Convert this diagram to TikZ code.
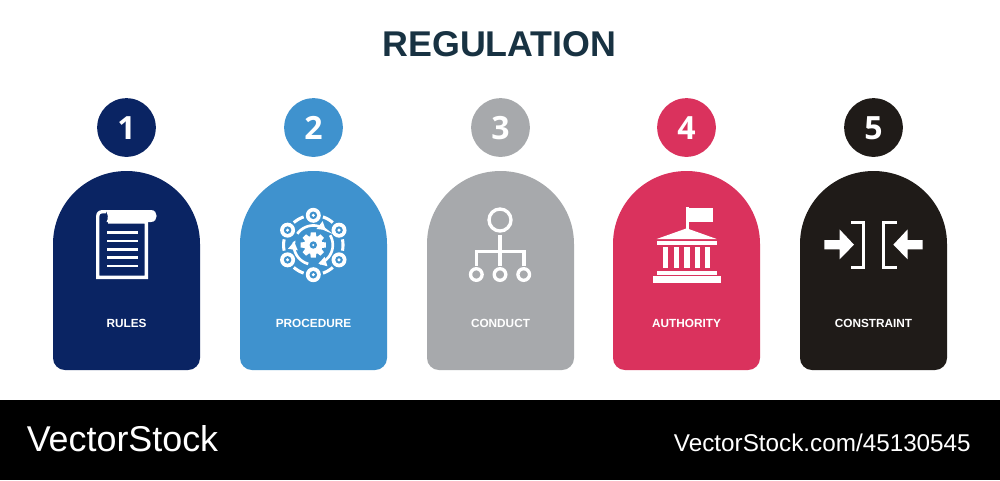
\documentclass[tikz,border=0pt]{standalone}
\usepackage{fontspec}
\setmainfont{Liberation Sans}
\newfontfamily\numfont{Open Sans}
\usetikzlibrary{arrows.meta}
\definecolor{cnavy}{HTML}{0A2463}
\definecolor{cblue}{HTML}{3F92CE}
\definecolor{cgray}{HTML}{A7A9AC}
\definecolor{cred}{HTML}{DA325D}
\definecolor{cblack}{HTML}{1F1B18}
\definecolor{ctitle}{HTML}{183242}
\tikzset{
  bullet/.style={circle,inner sep=0pt,minimum size=44pt},
  numtext/.style={anchor=base,inner sep=0pt,text=white,font=\numfont\bfseries\fontsize{24}{26}\selectfont},
  cardlabel/.style={anchor=base,inner sep=0pt,text=white,font=\bfseries\fontsize{8.85}{10}\selectfont},
  iconline/.style={draw=white,line width=2.5pt},
}
\newcommand{\cardshape}[6]{%
  \begin{scope}[shift={(#2,0)}]
    \fill[#3] (-73.5,244) .. controls (-73.5,203.4) and (-40.6,171) .. (0,171)
       .. controls (40.6,171) and (73.5,203.4) .. (73.5,244)
       [rounded corners=9pt] -- (73.5,370) -- (-73.5,370) [sharp corners] -- (-73.5,300) -- cycle;
    \node[bullet,fill=#3] (#1c) at (0,127.5) {};
    \node[numtext] (#1n) at (0,139.3) {#4};
    \node[cardlabel] (#1l) at (0,#6) {#5};
  \end{scope}}
\begin{document}
\begin{tikzpicture}[x=.75pt,y=-.75pt]
\useasboundingbox (0,0) rectangle (1000,480);
\fill[white] (0,0) rectangle (1000,480);
\node[anchor=base,inner sep=0pt,text=ctitle,font=\bfseries\fontsize{26.85}{30}\selectfont] (title) at (499.5,56.5) {REGULATION};
\cardshape{a}{126.5}{cnavy}{1}{RULES}{327.5}
\cardshape{b}{313.5}{cblue}{2}{PROCEDURE}{327.5}
\cardshape{c}{500.5}{cgray}{3}{CONDUCT}{327.5}
\cardshape{d}{686.5}{cred}{4}{AUTHORITY}{327.5}
\cardshape{e}{873.5}{cblack}{5}{CONSTRAINT}{327.5}

% icon 1: scroll
\draw[iconline,line join=miter] (108,222) -- (146.4,222) -- (146.4,277.4) -- (97.7,277.4) -- (97.7,217)
   .. controls (97.7,213) and (99.5,211.7) .. (103,211.7) -- (106,211.7);
\fill[white] (105,210) -- (151,210) .. controls (158.5,210) and (158.5,222) .. (151,222) -- (106.5,222)
   .. controls (108.5,219) and (108.5,213) .. (105,210) -- cycle;
\foreach \yy in {232.7,241,249.3,257.7,266}
  \fill[white] (107,\yy-1.4) rectangle (138,\yy+1.4);

% icon 2: process wheel
\begin{scope}[shift={(313.3,245)}]
  \foreach \a in {-90,-30,30,90,150,210}{
    \draw[white,line width=2.3pt] plot[domain=\a+19:\a+41,samples=12,smooth] (\x:29.7);
    \fill[white] (\a:29.7) circle[radius=7.5];
    \fill[cblue] (\a:29.7) circle[radius=3.8];
    \fill[white] (\a:29.7) circle[radius=1.7];
  }
  \foreach \s/\e in {-145/-50,-30/75,105/190}{
    \draw[white,line width=2pt,-{Triangle[length=6pt,width=7pt]}] plot[domain=\s:\e,samples=20,smooth] (\x:19.5);
  }
  \foreach \a in {0,45,...,315}
    \fill[white,rotate=\a] (7,-3.2) -- (12.6,-2.5) -- (12.6,2.5) -- (7,3.2) -- cycle;
  \fill[white] (0,0) circle[radius=9.3];
  \fill[cblue] (0,0) circle[radius=3.7];
  \fill[white] (0,0) circle[radius=1.1];
\end{scope}

% icon 3: hierarchy
\draw[iconline] (500,220) circle[radius=11];
\draw[iconline] (500,235) -- (500,266);
\draw[iconline,line join=miter] (476.5,266) -- (476.5,251.7) -- (524,251.7) -- (524,266);
\foreach \xx in {476.3,500,523.7}
  \draw[iconline] (\xx,274.5) circle[radius=5.8];

% icon 4: institution
\fill[white] (685.7,206.7) rectangle (688.7,229);
\fill[white] (688,208.3) rectangle (712.7,222);
\fill[white] (686.7,228.3) -- (716.7,239) -- (656.7,239) -- cycle;
\fill[white] (656.7,240.7) rectangle (716.7,244.7);
\foreach \xx in {663,673.7,684.3,694.7,705}
  \fill[white] (\xx,247.3) rectangle +(5.3,20.7);
\fill[white] (657,271) rectangle (716.7,274.7);
\fill[white] (653,276) rectangle (720.7,282.7);

% icon 5: constraint
\fill[white] (824.3,240) -- (839.5,240) -- (839.5,229.3) -- (854,244.7) -- (839.5,259.3) -- (839.5,249.3) -- (824.3,249.3) -- cycle;
\fill[white] (922.7,240) -- (907.7,240) -- (907.7,229.3) -- (893.3,244.7) -- (907.7,259.3) -- (907.7,249.3) -- (922.7,249.3) -- cycle;
\draw[white,line width=2.4pt,line join=miter] (851,222.3) -- (863.7,222.3) -- (863.7,267.5) -- (851,267.5);
\draw[white,line width=2.4pt,line join=miter] (896.7,222.3) -- (883.7,222.3) -- (883.7,267.5) -- (896.7,267.5);

% footer
\fill[black] (0,400) rectangle (1000,480);
\node[anchor=base west,inner sep=0pt,text=white,font=\fontsize{26.9}{30}\selectfont] (wm) at (26.5,451.5) {VectorStock};
\node[anchor=base east,inner sep=0pt,text=white,font=\fontsize{18.2}{20}\selectfont] (url) at (971,451) {VectorStock.com/45130545};
\end{tikzpicture}
\end{document}
